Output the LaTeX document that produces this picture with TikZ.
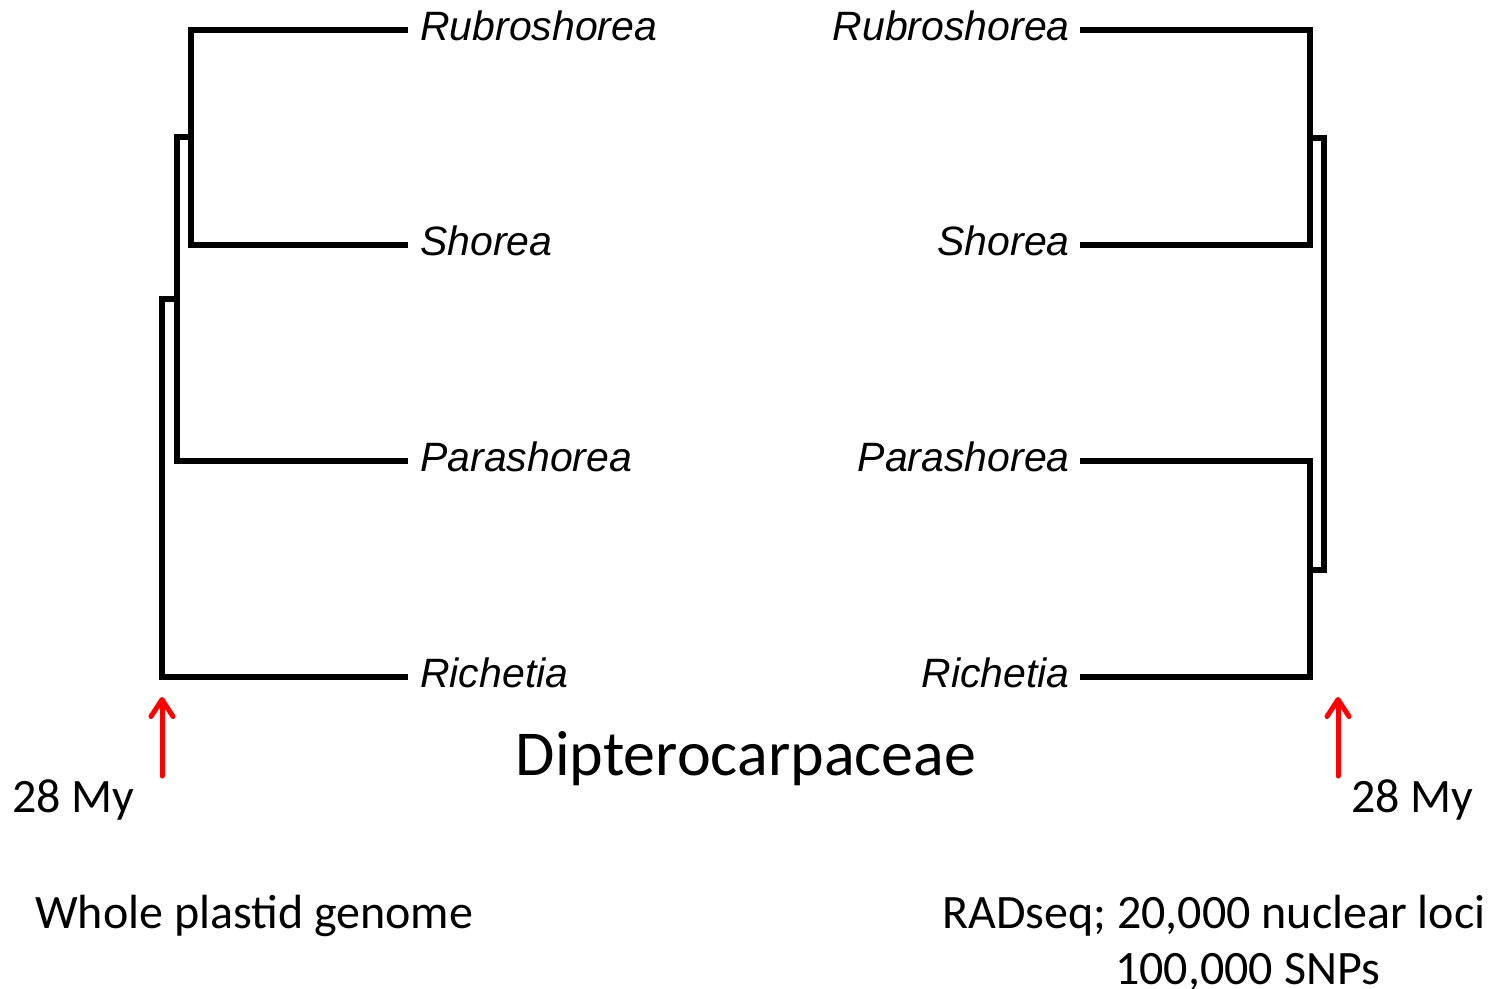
\documentclass[tikz,border=0pt]{standalone}
\usepackage{fontspec}
\setmainfont{Carlito}
\newfontfamily\taxonfont{Liberation Sans}
\usetikzlibrary{arrows.meta}
\begin{document}
\begin{tikzpicture}[x=1pt,y=-1pt,
  branch/.style={line width=5.5pt,line join=miter,line cap=butt},
  taxon/.style={inner sep=0pt,font=\taxonfont\itshape\fontsize{41}{48}\selectfont},
  caption/.style={inner sep=0pt,font=\fontsize{48}{56}\selectfont},
  agearrow/.style={draw=red,line width=5pt,line cap=round,
    -{Straight Barb[length=17pt,width=22pt,line width=5pt,round]}}]
\useasboundingbox (0,0) rectangle (1502,988);

% left tree: whole plastid genome
\node[taxon,anchor=base west] (lrub) at (420,40) {Rubroshorea};
\node[taxon,anchor=base west] (lsho) at (420,255) {Shorea};
\node[taxon,anchor=base west] (lpar) at (420,471) {Parashorea};
\node[taxon,anchor=base west] (lric) at (420,687) {Richetia};
\coordinate (la) at (408,30);
\coordinate (lb) at (408,245);
\coordinate (lc) at (408,461);
\coordinate (ld) at (408,677);
\coordinate (ln1) at (191,137);
\coordinate (ln2) at (177,299);
\coordinate (lroot) at (162,677);
\draw[branch] (la) -| (191,245) -- (lb);
\draw[branch] (ln1) -- (177,137) |- (lc);
\draw[branch] (ln2) -- (162,299) |- (ld);

% right tree: RADseq
\node[taxon,anchor=base east] (rrub) at (1070,40) {Rubroshorea};
\node[taxon,anchor=base east] (rsho) at (1070,255) {Shorea};
\node[taxon,anchor=base east] (rpar) at (1070,471) {Parashorea};
\node[taxon,anchor=base east] (rric) at (1070,687) {Richetia};
\coordinate (ra) at (1080,30);
\coordinate (rb) at (1080,245);
\coordinate (rc) at (1080,461);
\coordinate (rd) at (1080,677);
\coordinate (rn1) at (1310,138);
\coordinate (rn2) at (1310,570);
\coordinate (rroot) at (1338,677);
\draw[branch] (ra) -| (1310,245) -- (rb);
\draw[branch] (rc) -| (1310,677) -- (rd);
\draw[branch] (rn1) -- (1324,138) |- (rn2);

% crown ages
\coordinate (lat) at (162,776);
\coordinate (lah) at (162,697);
\coordinate (rat) at (1338,776);
\coordinate (rah) at (1338,697);
\draw[agearrow] (lat) -- (lah);
\draw[agearrow] (rat) -- (rah);
\node[caption,anchor=base west] (lage) at (12,812) {28 My};
\node[caption,anchor=base west] (rage) at (1351,812) {28 My};

% labels
\node[inner sep=0pt,font=\fontsize{64}{72}\selectfont,anchor=base] (fam) at (746,775) {Dipterocarpaceae};
\node[caption,anchor=base west] (lsrc) at (35,928) {Whole plastid genome};
\node[caption,anchor=base west] (rsrc1) at (942,928) {RADseq; 20,000 nuclear loci};
\node[caption,anchor=base west] (rsrc2) at (1115,984) {100,000 SNPs};
\end{tikzpicture}
\end{document}
